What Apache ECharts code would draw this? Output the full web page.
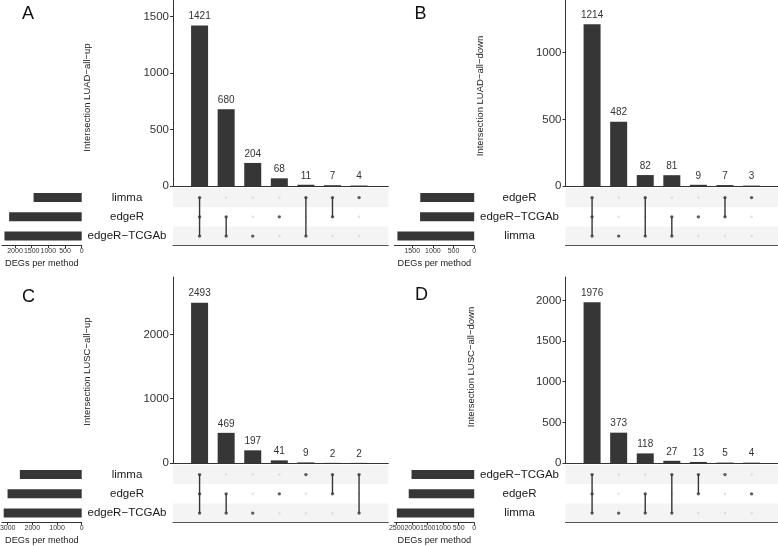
<!DOCTYPE html>
<html><head><meta charset="utf-8">
<script src="https://cdn.jsdelivr.net/npm/echarts@6/dist/echarts.min.js"></script>
<style>html,body{margin:0;padding:0;background:#fff}#c{width:778px;height:546px}</style>
</head><body><div id="c"></div>
<script>
// ---------- DATA ----------
const panelLetters = ['A', 'B', 'C', 'D'];

const setsA = ['limma', 'edgeR', 'edgeR−TCGAb'];
const countsA = [1421, 680, 204, 68, 11, 7, 4];
const membersA = [[1,1,1],[0,1,1],[0,0,1],[0,1,0],[1,0,1],[1,1,0],[1,0,0]];
const setSizesA = [1443, 2176, 2316];
const yTitleA = 'Intersection LUAD−all−up';
const yTicksA = [0, 500, 1000, 1500];
const sizeTicksA = [0, 500, 1000, 1500, 2000];

const setsB = ['edgeR', 'edgeR−TCGAb', 'limma'];
const countsB = [1214, 482, 82, 81, 9, 7, 3];
const membersB = [[1,1,1],[0,0,1],[1,0,1],[0,1,1],[0,1,0],[1,1,0],[1,0,0]];
const setSizesB = [1306, 1311, 1859];
const yTitleB = 'Intersection LUAD−all−down';
const yTicksB = [0, 500, 1000];
const sizeTicksB = [0, 500, 1000, 1500];

const setsC = ['limma', 'edgeR', 'edgeR−TCGAb'];
const countsC = [2493, 469, 197, 41, 9, 2, 2];
const membersC = [[1,1,1],[0,1,1],[0,0,1],[0,1,0],[1,0,0],[1,1,0],[1,0,1]];
const setSizesC = [2506, 3005, 3161];
const yTitleC = 'Intersection LUSC−all−up';
const yTicksC = [0, 1000, 2000];
const sizeTicksC = [0, 1000, 2000, 3000];

const setsD = ['edgeR−TCGAb', 'edgeR', 'limma'];
const countsD = [1976, 373, 118, 27, 13, 5, 4];
const membersD = [[1,1,1],[0,0,1],[0,1,1],[1,0,1],[1,1,0],[1,0,0],[0,1,0]];
const setSizesD = [2021, 2111, 2494];
const yTitleD = 'Intersection LUSC−all−down';
const yTicksD = [0, 500, 1000, 1500, 2000];
const sizeTicksD = [0, 500, 1000, 1500, 2000, 2500];

const yAxisMax = [1646, 1395, 2893, 2287];
const sizeAxisMax = [2390, 1930, 3230, 2570];
const sizeAxisName = 'DEGs per method';

// ---------- LAYOUT ----------
const panels = [
  {sets: setsA, counts: countsA, members: membersA, sizes: setSizesA, title: yTitleA, yTicks: yTicksA, sTicks: sizeTicksA},
  {sets: setsB, counts: countsB, members: membersB, sizes: setSizesB, title: yTitleB, yTicks: yTicksB, sTicks: sizeTicksB},
  {sets: setsC, counts: countsC, members: membersC, sizes: setSizesC, title: yTitleC, yTicks: yTicksC, sTicks: sizeTicksC},
  {sets: setsD, counts: countsD, members: membersD, sizes: setSizesD, title: yTitleD, yTicks: yTicksD, sTicks: sizeTicksD}
];
const layout = [
  {ox: 0,     oy: 0,   letter: [28, 14],     titleGap: 81,   titlePad: [0, 9, 0, 0]},
  {ox: 392.5, oy: 0,   letter: [420.5, 14],  titleGap: 80,   titlePad: [0, 6, 0, 0]},
  {ox: 0,     oy: 277, letter: [28.5, 297],  titleGap: 80.5, titlePad: [0, 3, 0, 0]},
  {ox: 392.5, oy: 277, letter: [421.5, 295], titleGap: 89,   titlePad: [0, 0, 0, 6]}
];
const FONT = '"Liberation Sans", Arial, Helvetica, sans-serif';
const DARK = '#363636';
const XMAX = 8.1;
const plain = v => String(v);

const grid = [], xAxis = [], yAxis = [], series = [], graphic = [];

panels.forEach((p, i) => {
  const L = layout[i];
  const gb = grid.length;
  grid.push({left: L.ox + 173, top: L.oy, width: 215.3, height: 186, outerBoundsMode: 'none', containLabel: false});
  grid.push({left: L.ox + 173, top: L.oy + 188, width: 215.3, height: 57.7, outerBoundsMode: 'none', containLabel: false});
  grid.push({left: L.ox + 2, top: L.oy + 188, width: 79.7, height: 57.7, outerBoundsMode: 'none', containLabel: false});

  // main bar axes
  xAxis.push({gridIndex: gb, type: 'value', min: 0, max: XMAX,
    axisLine: {show: true, onZero: false, lineStyle: {color: '#333', width: 1}},
    axisTick: {show: false}, axisLabel: {show: false}, splitLine: {show: false}});
  yAxis.push({gridIndex: gb, type: 'value', min: 0, max: yAxisMax[i],
    axisLine: {show: true, lineStyle: {color: '#333', width: 1}},
    axisTick: {show: true, length: 3, customValues: p.yTicks, lineStyle: {color: '#333'}},
    axisLabel: {customValues: p.yTicks, formatter: plain, fontSize: 11.5, fontFamily: FONT, color: '#333', margin: 4},
    splitLine: {show: false},
    name: p.title, nameLocation: 'middle', nameGap: L.titleGap,
    nameTextStyle: {fontSize: 9.5, fontFamily: FONT, color: '#222', padding: L.titlePad}});

  // matrix axes
  xAxis.push({gridIndex: gb + 1, type: 'value', min: 0, max: XMAX, position: 'bottom',
    axisLine: {show: true, onZero: false, lineStyle: {color: '#555', width: 1}},
    axisTick: {show: false}, axisLabel: {show: false}, splitLine: {show: false}});
  yAxis.push({gridIndex: gb + 1, type: 'category', data: p.sets, inverse: true,
    axisLine: {show: false}, axisTick: {show: false},
    axisLabel: {align: 'center', margin: 46, fontSize: 11.5, fontFamily: FONT, color: '#1a1a1a'},
    splitLine: {show: false},
    splitArea: {show: true, areaStyle: {color: ['#f4f4f4', '#ffffff']}}});

  // set size axes
  xAxis.push({gridIndex: gb + 2, type: 'value', inverse: true, min: 0, max: sizeAxisMax[i],
    axisLine: {show: true, onZero: false, lineStyle: {color: '#333', width: 1}},
    axisTick: {show: true, length: 2.5, customValues: p.sTicks, lineStyle: {color: '#333'}},
    axisLabel: {customValues: p.sTicks, formatter: plain, fontSize: 7, fontFamily: FONT, color: '#333', margin: 2, hideOverlap: false},
    splitLine: {show: false},
    name: sizeAxisName, nameLocation: 'middle', nameGap: 13,
    nameTextStyle: {fontSize: 9.2, fontFamily: FONT, color: '#222'}});
  yAxis.push({gridIndex: gb + 2, type: 'category', data: p.sets, inverse: true, show: false});

  // main bars
  series.push({type: 'bar', xAxisIndex: gb, yAxisIndex: gb, barWidth: 17,
    data: p.counts.map((v, j) => [j + 1, v]),
    itemStyle: {color: DARK},
    label: {show: true, position: 'top', distance: 4, fontSize: 10, fontFamily: FONT, color: '#333',
      formatter: d => String(d.value[1])}});

  // matrix dots and connectors
  const inactive = [], active = [];
  p.members.forEach((m, j) => {
    m.forEach((on, r) => { (on ? active : inactive).push([j + 1, r]); });
    const rows = m.map((on, r) => on ? r : -1).filter(r => r >= 0);
    if (rows.length >= 2) {
      series.push({type: 'line', xAxisIndex: gb + 1, yAxisIndex: gb + 1,
        data: [[j + 1, rows[0]], [j + 1, rows[rows.length - 1]]],
        symbol: 'none', lineStyle: {color: DARK, width: 1.4}, z: 3, silent: true});
    }
  });
  series.push({type: 'scatter', xAxisIndex: gb + 1, yAxisIndex: gb + 1, data: inactive,
    symbolSize: 2.6, itemStyle: {color: '#d9d9d9'}, z: 2, silent: true});
  series.push({type: 'scatter', xAxisIndex: gb + 1, yAxisIndex: gb + 1, data: active,
    symbolSize: 3.4, itemStyle: {color: DARK}, z: 4, silent: true});

  // set sizes
  series.push({type: 'bar', xAxisIndex: gb + 2, yAxisIndex: gb + 2, barWidth: 9,
    data: p.sizes, itemStyle: {color: DARK}});

  graphic.push({type: 'text', x: L.letter[0], y: L.letter[1],
    style: {text: panelLetters[i], fontSize: 18, fontFamily: FONT, fill: '#111',
      align: 'center', verticalAlign: 'middle'}});
});

const chart = echarts.init(document.getElementById('c'), null, {renderer: 'canvas'});
chart.setOption({backgroundColor: '#fff', animation: false, grid, xAxis, yAxis, series, graphic});
</script></body></html>
